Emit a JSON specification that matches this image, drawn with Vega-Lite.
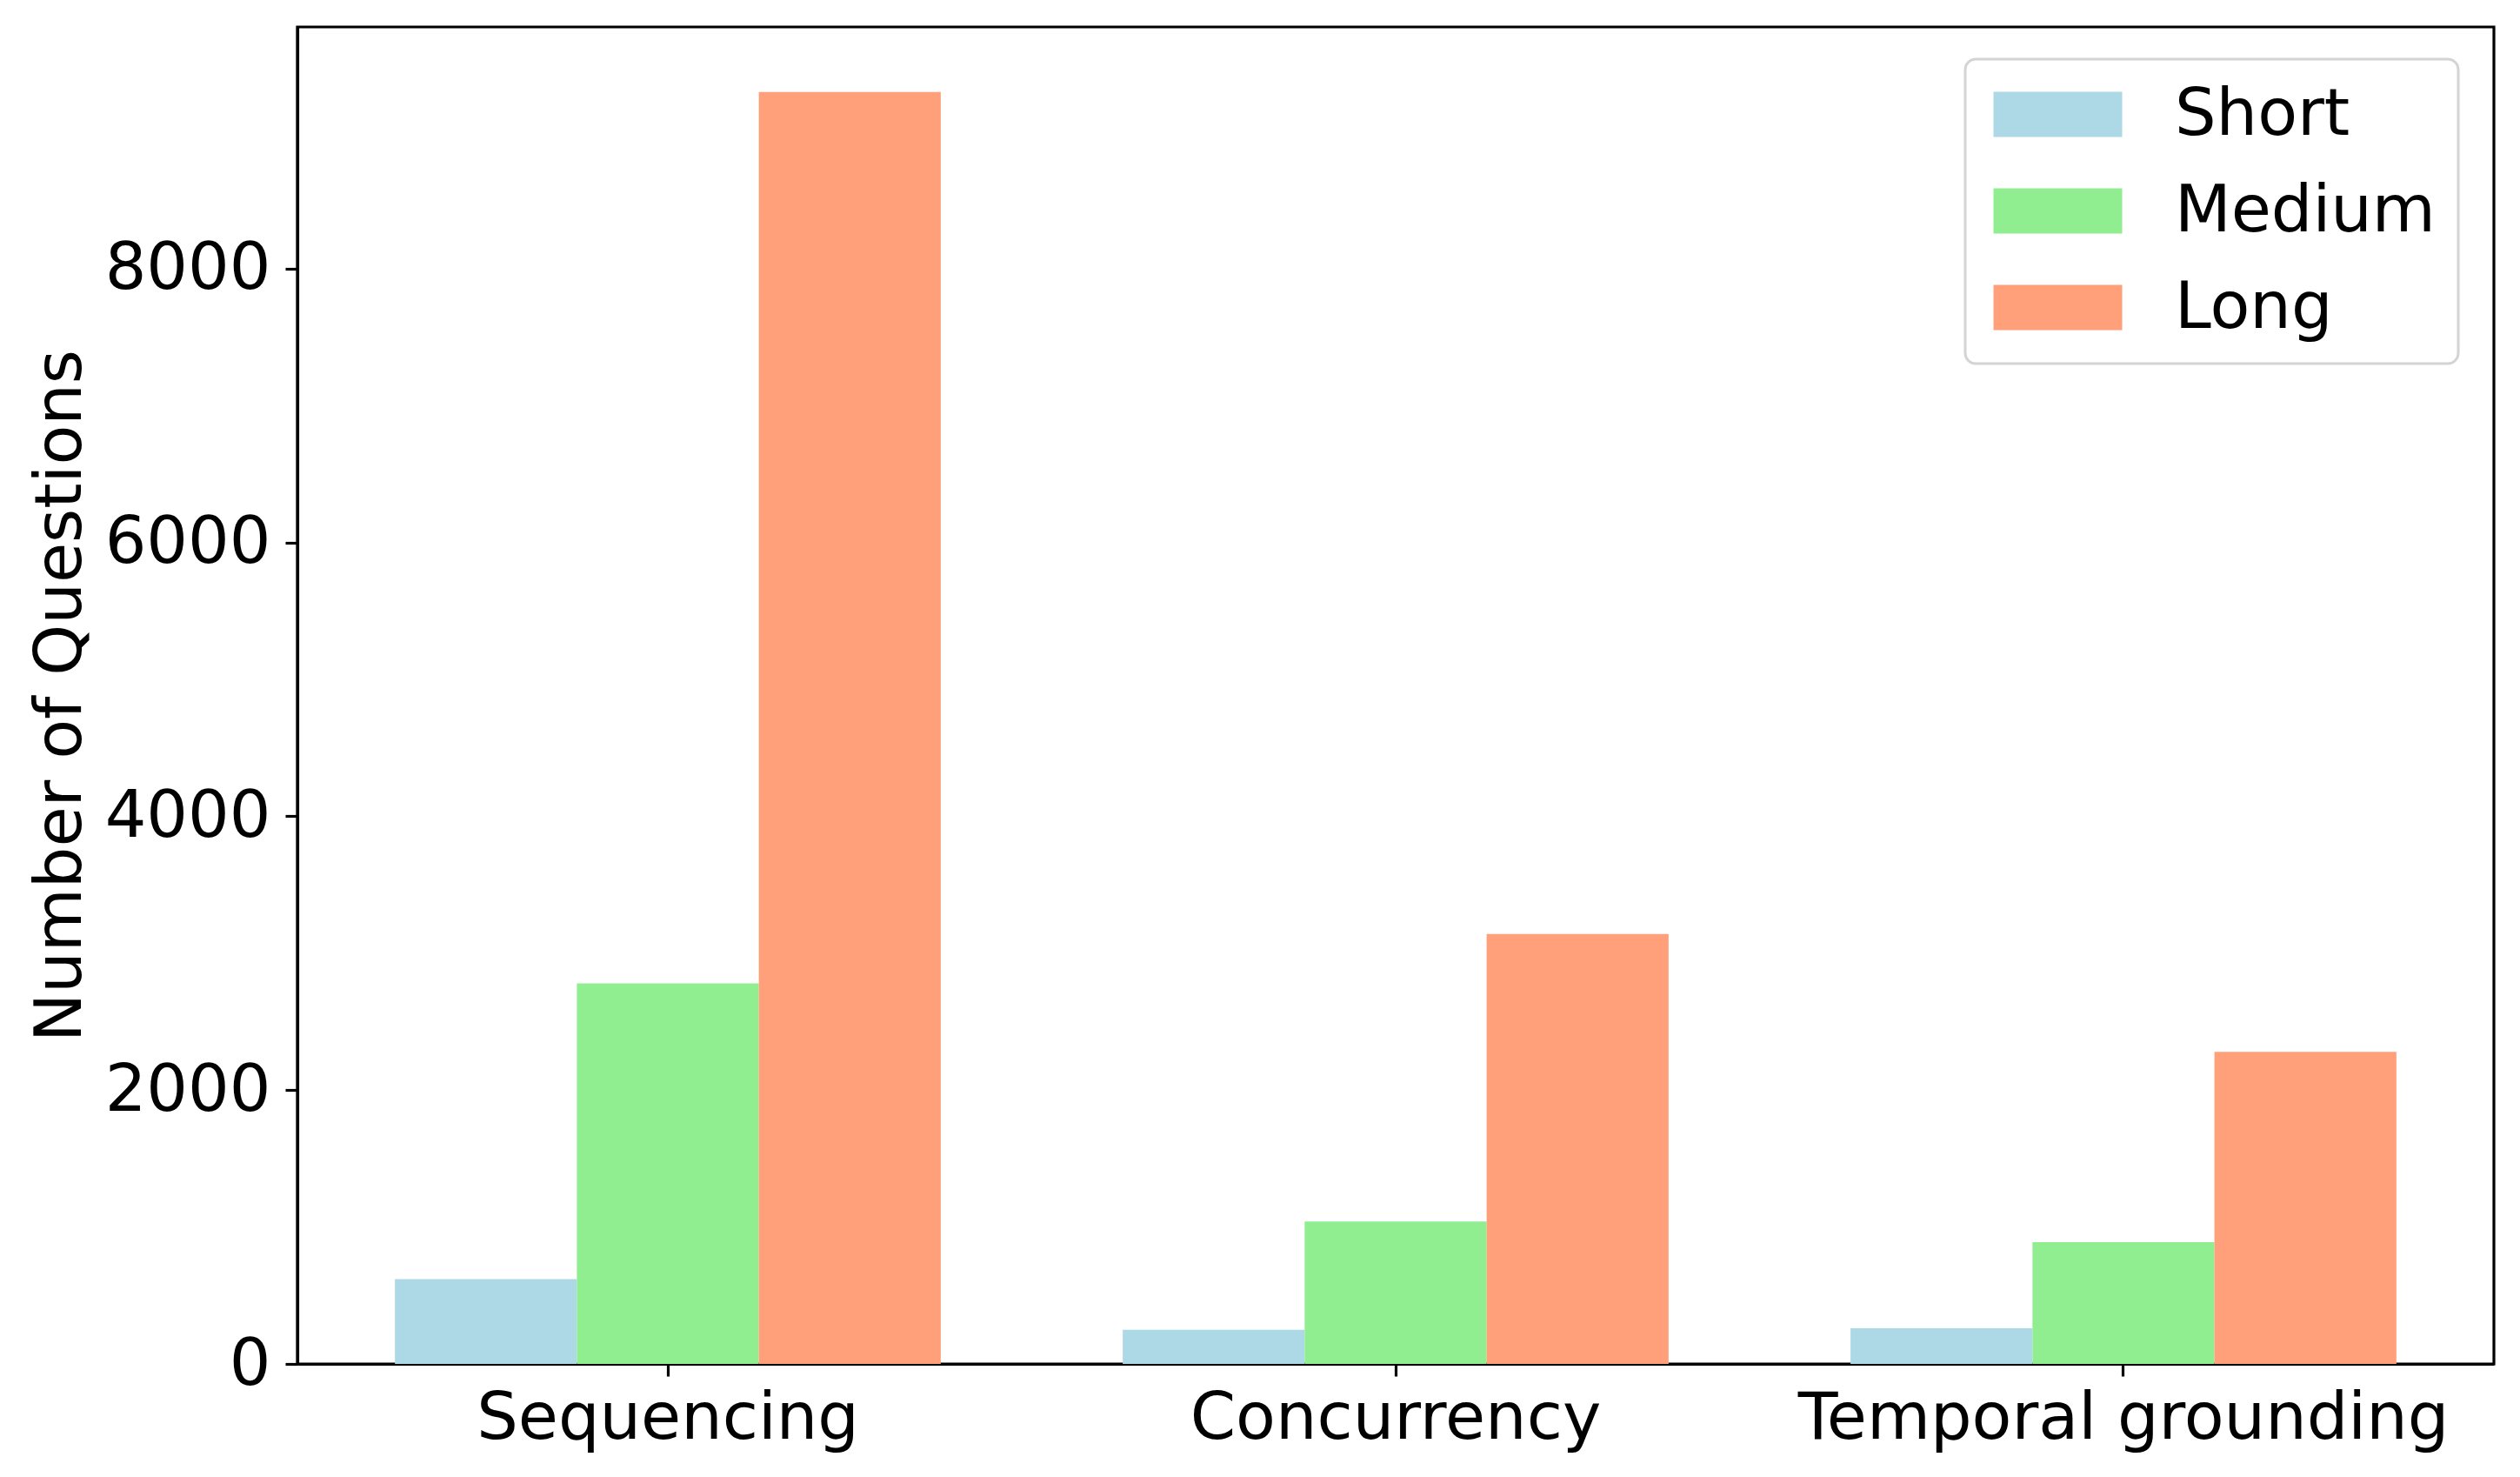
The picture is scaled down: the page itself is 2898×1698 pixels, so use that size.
{
  "$schema": "https://vega.github.io/schema/vega-lite/v6.json",
  "width": 2526,
  "height": 1537,
  "autosize": {"type": "none"},
  "padding": {"left": 342, "top": 31, "right": 30, "bottom": 130},
  "background": "white",
  "config": {
    "font": "DejaVu Sans",
    "view": {"stroke": "black", "strokeWidth": 3.2},
    "axis": {
      "domainColor": "black", "domainWidth": 3.2,
      "tickColor": "black", "tickWidth": 3.2, "tickSize": 14,
      "labelFont": "DejaVu Sans", "labelFontSize": 75, "labelColor": "black", "labelLimit": 0,
      "titleFont": "DejaVu Sans", "titleFontSize": 75, "titleColor": "black", "titleFontWeight": "normal",
      "grid": false, "labelPadding": 12
    },
    "legend": {
      "strokeColor": "#d4d4d4",
      "strokeWidth": 3,
      "fillColor": "rgba(255,255,255,0.8)",
      "cornerRadius": 12,
      "padding": 26
    }
  },
  "data": {
    "values": [
      {"category": "Sequencing", "length": "Short", "count": 620},
      {"category": "Sequencing", "length": "Medium", "count": 2780},
      {"category": "Sequencing", "length": "Long", "count": 9290},
      {"category": "Concurrency", "length": "Short", "count": 250},
      {"category": "Concurrency", "length": "Medium", "count": 1040},
      {"category": "Concurrency", "length": "Long", "count": 3140},
      {"category": "Temporal grounding", "length": "Short", "count": 260},
      {"category": "Temporal grounding", "length": "Medium", "count": 890},
      {"category": "Temporal grounding", "length": "Long", "count": 2280}
    ]
  },
  "mark": {"type": "bar"},
  "encoding": {
    "x": {
      "field": "category", "type": "nominal",
      "sort": ["Sequencing", "Concurrency", "Temporal grounding"],
      "scale": {"paddingInner": 0.25, "paddingOuter": 0.134},
      "axis": {"title": null, "labelAngle": 0, "labelPadding": 12}
    },
    "xOffset": {
      "field": "length", "type": "nominal",
      "sort": ["Short", "Medium", "Long"],
      "scale": {"paddingInner": 0, "paddingOuter": 0}
    },
    "y": {
      "field": "count", "type": "quantitative",
      "scale": {"domain": [0, 9765], "nice": false, "zero": true},
      "axis": {"title": "Number of Questions", "format": "d", "values": [0, 2000, 4000, 6000, 8000], "titlePadding": 34, "labelPadding": 17}
    },
    "color": {
      "field": "length", "type": "nominal",
      "sort": ["Short", "Medium", "Long"],
      "scale": {"domain": ["Short", "Medium", "Long"], "range": ["#ADD8E6", "#90EE90", "#FFA07A"]},
      "legend": {
        "title": null,
        "orient": "none",
        "legendX": 1918,
        "legendY": 37,
        "symbolType": "M-1.192,-1H4.5V1H-1.192Z",
        "symbolSize": 2704,
        "symbolStrokeWidth": 0,
        "symbolOpacity": 1,
        "labelFont": "DejaVu Sans",
        "labelFontSize": 75,
        "labelColor": "black",
        "labelLimit": 0,
        "labelOffset": 140,
        "rowPadding": 35
      }
    }
  }
}
